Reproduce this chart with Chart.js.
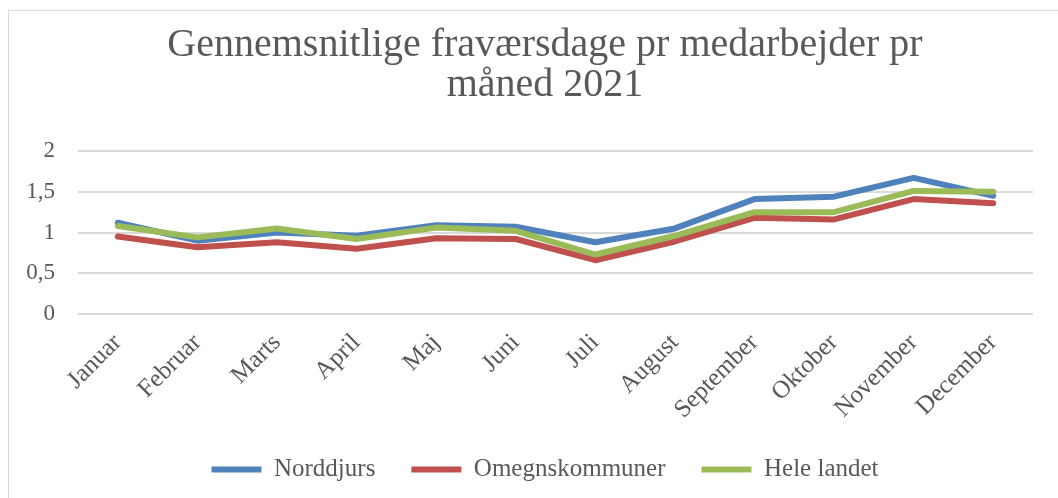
<!DOCTYPE html>
<html>
<head>
<meta charset="utf-8">
<script src="https://cdn.jsdelivr.net/npm/chart.js@4"></script>
<style>
    html, body { margin: 0; padding: 0; background: #ffffff; overflow: hidden; width: 1058px; height: 498px; }
    #frame {
        position: absolute;
        left: 8px;
        top: 10px;
        width: 1060px;
        height: 500px;
        border: 1px solid #d9d9d9;
    }
    /* canvas is wider than the window so title and legend centre like the original frame */
    #wrap { position: absolute; left: 0; top: 0; width: 1090px; height: 498px; }
</style>
</head>
<body>
<div id="frame"></div>
<div id="wrap"><canvas id="chart"></canvas></div>
<script>
// Data
const months = ['Januar', 'Februar', 'Marts', 'April', 'Maj', 'Juni',
    'Juli', 'August', 'September', 'Oktober', 'November', 'December'];
const norddjurs = [1.12, 0.90, 1.00, 0.96, 1.09, 1.07, 0.88, 1.05, 1.41, 1.44, 1.67, 1.45];
const omegnskommuner = [0.95, 0.82, 0.88, 0.80, 0.93, 0.92, 0.66, 0.89, 1.18, 1.16, 1.41, 1.36];
const heleLandet = [1.08, 0.94, 1.05, 0.92, 1.06, 1.02, 0.73, 0.96, 1.25, 1.25, 1.51, 1.50];
const yTicks = [0, 0.5, 1, 1.5, 2];

const textColor = '#595959';
const gridColor = '#d9d9d9';
const fontFamily = '"Liberation Serif", "DejaVu Serif", serif';

function lineSet(label, data, color, order) {
    return {
        label: label,
        data: data,
        borderColor: color,
        backgroundColor: color,
        borderWidth: 6,
        borderCapStyle: 'round',
        borderJoinStyle: 'round',
        pointRadius: 0,
        pointStyle: 'line',
        tension: 0,
        fill: false,
        order: order
    };
}

new Chart(document.getElementById('chart'), {
    type: 'line',
    data: {
        labels: months,
        datasets: [
            lineSet('Norddjurs', norddjurs, '#4f81bd', 3),
            lineSet('Omegnskommuner', omegnskommuner, '#c0504d', 2),
            lineSet('Hele landet', heleLandet, '#9bbb59', 1)
        ]
    },
    options: {
        responsive: true,
        maintainAspectRatio: false,
        animation: false,
        layout: { padding: { left: 0, right: 0, top: 0, bottom: 6 } },
        plugins: {
            title: {
                display: true,
                text: ['Gennemsnitlige fraværsdage pr medarbejder pr', 'måned 2021'],
                color: textColor,
                font: { family: fontFamily, size: 40, weight: 'normal', lineHeight: 1.0 },
                padding: { top: 25, bottom: 46 }
            },
            legend: {
                position: 'bottom',
                labels: {
                    color: textColor,
                    usePointStyle: true,
                    pointStyle: 'line',
                    pointStyleWidth: 50,
                    padding: 36,
                    font: { family: fontFamily, size: 25 },
                    sort: function (a, b) { return a.datasetIndex - b.datasetIndex; }
                }
            },
            tooltip: { enabled: false }
        },
        scales: {
            x: {
                offset: true,
                grid: { display: false },
                border: { display: false },
                ticks: {
                    color: textColor,
                    font: { family: fontFamily, size: 25 },
                    minRotation: 45,
                    maxRotation: 45,
                    autoSkip: false,
                    padding: 6
                },
                afterFit: function (scale) { scale.height = 107; }
            },
            y: {
                min: 0,
                max: 2,
                grid: { color: gridColor, lineWidth: 2, drawTicks: false },
                border: { display: false },
                afterBuildTicks: function (scale) {
                    scale.ticks = yTicks.map(function (v) { return { value: v }; });
                },
                ticks: {
                    color: textColor,
                    font: { family: fontFamily, size: 23 },
                    padding: 23,
                    callback: function (v) { return String(v).replace('.', ','); }
                },
                afterFit: function (scale) { scale.width = 78; }
            },
            // empty right-hand space, keeps the plot end at the same place as the original
            spacer: {
                type: 'linear',
                position: 'right',
                grid: { display: false, drawTicks: false },
                border: { display: false },
                ticks: { display: false },
                afterFit: function (scale) { scale.width = 57; }
            }
        }
    }
});
</script>
</body>
</html>
